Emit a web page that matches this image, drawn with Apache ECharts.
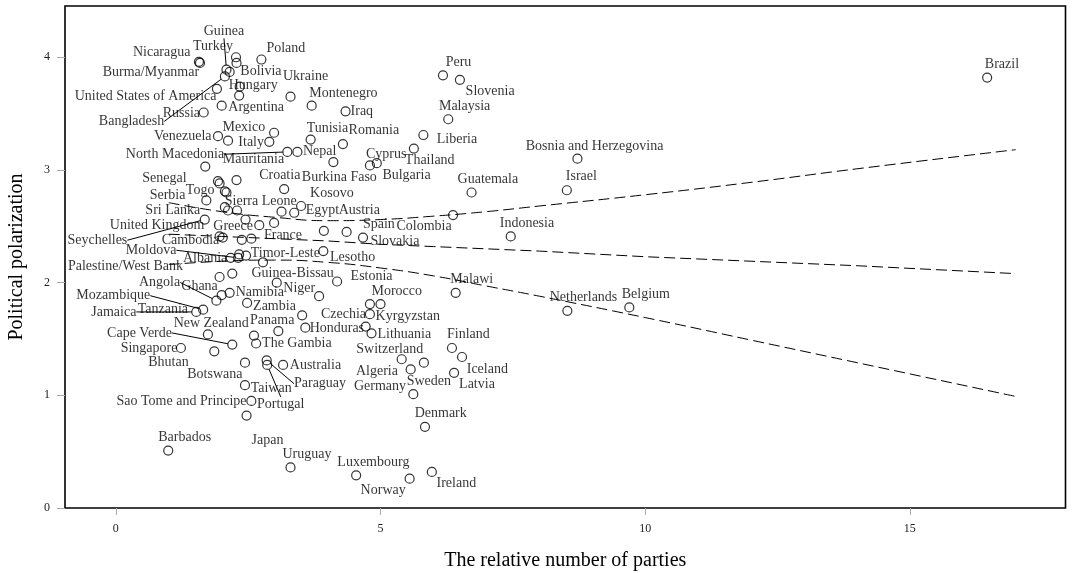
<!DOCTYPE html>
<html>
<head>
<meta charset="utf-8">
<script src="https://cdn.jsdelivr.net/npm/echarts@6/dist/echarts.min.js"></script>
<style>
html,body{margin:0;padding:0;background:#fff;}
#chart{width:1072px;height:573px;}
</style>
</head>
<body>
<div id="chart"></div>
<script>
// ---------------- DATA ----------------
const countries = ["Nicaragua","Burma/Myanmar","Guinea","Turkey","Bolivia","Bangladesh","Poland","United States of America","Hungary","Ukraine","Montenegro","Argentina","Russia","Iraq","Mexico","Venezuela","Italy","Tunisia","Romania","North Macedonia","Nepal","Mauritania","Burkina Faso","Cyprus","Bulgaria","Thailand","Liberia","Peru","Slovenia","Malaysia","Bosnia and Herzegovina","Israel","Guatemala","Brazil","Senegal","Serbia","Togo","Croatia","Sri Lanka","Sierra Leone","Egypt","Kosovo","United Kingdom","Greece","Austria","Spain","Slovakia","Colombia","Indonesia","Seychelles","Cambodia","France","Moldova","Albania","Timor-Leste","Lesotho","Palestine/West Bank","Guinea-Bissau","Estonia","Malawi","Niger","Namibia","Ghana","Angola","Tanzania","Mozambique","Jamaica","Zambia","Morocco","Czechia","Kyrgyzstan","Lithuania","Honduras","New Zealand","Panama","Cape Verde","The Gambia","Singapore","Bhutan","Botswana","Australia","Paraguay","Portugal","Taiwan","Sao Tome and Principe","Japan","Barbados","Uruguay","Luxembourg","Norway","Ireland","Denmark","Switzerland","Algeria","Germany","Sweden","Finland","Iceland","Latvia","Netherlands","Belgium"];
const relParties = [1.57,1.59,2.09,2.27,2.15,2.06,2.75,1.91,2.34,3.30,3.70,2.00,1.66,4.34,2.12,1.93,2.90,3.68,4.29,3.24,3.43,2.99,4.11,4.80,4.93,5.63,5.81,6.18,6.50,6.28,8.72,8.52,6.72,16.46,1.69,1.93,2.06,3.18,1.71,2.12,3.37,3.50,2.06,2.71,3.93,4.36,4.67,6.37,7.46,1.68,2.02,2.56,2.31,2.17,2.46,3.92,2.20,2.78,4.18,6.42,3.04,2.15,1.96,1.90,2.00,1.65,1.52,2.48,5.00,4.72,4.80,4.83,3.58,1.74,3.07,2.20,2.65,1.23,1.86,2.44,3.16,2.85,2.86,2.44,2.56,2.47,0.99,3.30,4.54,5.55,5.97,5.84,5.82,5.40,5.57,5.62,6.35,6.54,6.39,8.53,9.70];
const polarization = [3.96,3.95,3.89,4.00,3.87,3.83,3.98,3.72,3.74,3.65,3.57,3.57,3.51,3.52,3.26,3.30,3.25,3.27,3.23,3.16,3.16,3.33,3.07,3.04,3.06,3.19,3.31,3.84,3.80,3.45,3.10,2.82,2.80,3.82,3.03,2.90,2.81,2.83,2.73,2.64,2.62,2.68,2.67,2.51,2.46,2.45,2.40,2.60,2.41,2.56,2.40,2.39,2.22,2.22,2.24,2.28,2.08,2.18,2.01,1.91,2.00,1.91,2.05,1.84,1.89,1.76,1.74,1.82,1.81,1.61,1.72,1.55,1.60,1.54,1.57,1.45,1.46,1.42,1.39,1.29,1.27,1.31,1.27,1.09,0.95,0.82,0.51,0.36,0.29,0.26,0.32,0.72,1.29,1.32,1.23,1.01,1.42,1.34,1.20,1.75,1.78];
// points whose labels are not shown
const unlabeledParties = [2.28,2.33,1.96,2.28,2.09,1.96,2.29,3.13,2.45,2.99,2.38,2.33,3.84,3.52,4.80,2.61];
const unlabeledPolar   = [3.95,3.66,2.88,2.91,2.80,2.41,2.64,2.63,2.56,2.53,2.38,2.25,1.88,1.71,1.81,1.53];
// fitted line and confidence band
const fitX     = [1,2,3,4,5,6,7,8,10,12,14,17];
const fitUpper = [2.71,2.63,2.58,2.55,2.56,2.59,2.63,2.68,2.78,2.89,3.01,3.18];
const fitMid   = [2.43,2.41,2.39,2.37,2.34,2.32,2.30,2.28,2.23,2.19,2.15,2.08];
const fitLower = [2.16,2.19,2.20,2.18,2.13,2.06,1.97,1.88,1.69,1.49,1.29,0.99];
const xTicks = [0,5,10,15];
const yTicks = [0,1,2,3,4];

// ---------------- LABEL LAYOUT (pixel offsets of label text from its point) ----------------
const labelOffset = {
"Nicaragua":[-66,-9.4],"Burma/Myanmar":[-97.3,9.4],"Guinea":[-22.7,-38.3],"Turkey":[-43,-10.7],"Bolivia":[10.7,-1],
"Bangladesh":[-126,45],"Poland":[5,-11.3],"United States of America":[-142.3,8],"Hungary":[-11,-1.3],"Ukraine":[-7.5,-20.3],
"Montenegro":[-2.5,-12.7],"Argentina":[6.6,2],"Russia":[-41,0.7],"Iraq":[5,0],"Mexico":[-5.6,-13.3],"Venezuela":[-64,0],
"Italy":[-31,1],"Tunisia":[-4,-11],"Romania":[5.7,-13.3],"North Macedonia":[-161.5,2.3],"Nepal":[5.6,-0.6],
"Mauritania":[-51.3,26.6],"Burkina Faso":[-31.6,15],"Cyprus":[-4,-11],"Bulgaria":[5.6,11.7],"Thailand":[-9,11.7],
"Liberia":[13.4,4],"Peru":[2.7,-13],"Slovenia":[5.7,11.4],"Malaysia":[-9.3,-12.7],"Bosnia and Herzegovina":[-51.7,-12.6],
"Israel":[-1,-14],"Guatemala":[-14,-12.7],"Brazil":[-2.3,-13.7],"Senegal":[-63,11.7],"Serbia":[-68.3,14],"Togo":[-39,-1],
"Croatia":[-25,-13.6],"Sri Lanka":[-61,10],"Sierra Leone":[-3.3,-8.7],"Egypt":[11.5,-2.5],"Kosovo":[9,-12.7],
"United Kingdom":[-115,18],"Greece":[-46,1],"Austria":[14.8,-20.7],"Spain":[16.3,-7.7],"Slovakia":[7.4,3.7],
"Colombia":[-56.6,11.3],"Indonesia":[-11,-13.4],"Seychelles":[-137.3,20.7],"Cambodia":[-61,2.3],"France":[12.6,-3.3],
"Moldova":[-112.3,-7.6],"Albania":[-47.7,0],"Timor-Leste":[4.7,-2.5],"Lesotho":[6.7,6.2],"Palestine/West Bank":[-164.4,-7.3],
"Guinea-Bissau":[-11.6,10.6],"Estonia":[13.5,-5.3],"Malawi":[-5.3,-13],"Niger":[6.6,5.3],"Namibia":[6,0],"Ghana":[-38.3,9.4],
"Angola":[-77.4,-18.2],"Tanzania":[-84,14.3],"Mozambique":[-126.8,-14],"Jamaica":[-105,0],"Zambia":[6,3],"Morocco":[-9,-12.6],
"Czechia":[-44.7,-12.7],"Kyrgyzstan":[5.7,2],"Lithuania":[6,0.7],"Honduras":[4.3,0.2],"New Zealand":[-34.3,-11.3],
"Panama":[-28.3,-10.8],"Cape Verde":[-125.2,-11.7],"The Gambia":[6,-0.6],"Singapore":[-60.3,0.3],"Bhutan":[-66,11],
"Botswana":[-57.7,11.5],"Australia":[6.7,0],"Paraguay":[27.3,23.3],"Portugal":[-10.2,39],"Taiwan":[5.7,2.8],
"Sao Tome and Principe":[-134.8,0],"Japan":[5,24.3],"Barbados":[-10,-13.3],"Uruguay":[-8,-13.3],"Luxembourg":[-18.8,-13],
"Norway":[-49,11.7],"Ireland":[4.7,11],"Denmark":[-10.3,-13.8],"Switzerland":[-67.6,-13.7],"Algeria":[-45.7,12.4],
"Germany":[-56.7,17],"Sweden":[-6.6,-13],"Finland":[-5,-13.3],"Iceland":[4.7,12],"Latvia":[5,11.3],
"Netherlands":[-17.7,-13.3],"Belgium":[-7.6,-13]
};
const leaderLines = ["Guinea","Bangladesh","North Macedonia","Seychelles","Moldova","Angola","Mozambique","Jamaica","Cape Verde","Paraguay","Portugal"];

// ---------------- CHART ----------------
const FONT = '"Liberation Serif","Times New Roman",serif';
const chart = echarts.init(document.getElementById('chart'), null, {renderer:'canvas'});

const pointStyle = {color:'rgba(0,0,0,0)', borderColor:'#000', borderWidth:1.2};
const dashStyle = {color:'#000', width:1, type:[11,5]};

const labeledData = countries.map((c,i)=>({
  name:c, value:[relParties[i], polarization[i]],
  labelLine:{show: leaderLines.indexOf(c) >= 0}
}));
const unlabeledData = unlabeledParties.map((x,i)=>[x, unlabeledPolar[i]]);

function lineData(ys){ return fitX.map((x,i)=>[x, ys[i]]); }

chart.setOption({
  animation:false,
  backgroundColor:'#fff',
  grid:{left:65, right:6.5, top:6, bottom:65, outerBoundsMode:'none', containLabel:false,
        show:true, borderColor:'#000', borderWidth:1.6, backgroundColor:'transparent'},
  xAxis:{
    type:'value', min:-0.96, max:17.94,
    axisLine:{show:false, onZero:false}, splitLine:{show:false},
    axisTick:{show:true, customValues:xTicks, length:7, lineStyle:{color:'#aaa', width:1}},
    axisLabel:{customValues:xTicks, fontFamily:FONT, fontSize:12, color:'#222', margin:15},
    name:'The relative number of parties', nameLocation:'middle', nameGap:43,
    nameTextStyle:{fontFamily:FONT, fontSize:20, color:'#000'}
  },
  yAxis:{
    type:'value', min:0, max:4.455,
    axisLine:{show:false, onZero:false}, splitLine:{show:false},
    axisTick:{show:true, customValues:yTicks, length:8, lineStyle:{color:'#aaa', width:1}},
    axisLabel:{customValues:yTicks, fontFamily:FONT, fontSize:12, color:'#222', margin:15},
    name:'Political polarization', nameLocation:'middle', nameGap:38, nameRotate:90,
    nameTextStyle:{fontFamily:FONT, fontSize:20, color:'#000'}
  },
  series:[
    {type:'line', data:lineData(fitUpper), smooth:true, symbol:'none', lineStyle:dashStyle, silent:true, z:1},
    {type:'line', data:lineData(fitMid), smooth:false, symbol:'none', lineStyle:dashStyle, silent:true, z:1},
    {type:'line', data:lineData(fitLower), smooth:true, symbol:'none', lineStyle:dashStyle, silent:true, z:1},
    {type:'scatter', data:unlabeledData, symbol:'circle', symbolSize:9, itemStyle:pointStyle, z:3},
    {type:'scatter', data:labeledData, symbol:'circle', symbolSize:9, itemStyle:pointStyle, z:3,
     label:{show:true, formatter:'{b}', position:'inside', align:'left', verticalAlign:'middle',
            fontFamily:FONT, fontSize:14, color:'#000', textBorderWidth:0},
     labelLine:{show:false, smooth:false, lineStyle:{color:'#000', width:1}},
     labelLayout:function(p){
       const o = labelOffset[countries[p.dataIndex]] || [5,0];
       return {dx:o[0], dy:o[1]};
     }
    }
  ]
});
</script>
</body>
</html>
